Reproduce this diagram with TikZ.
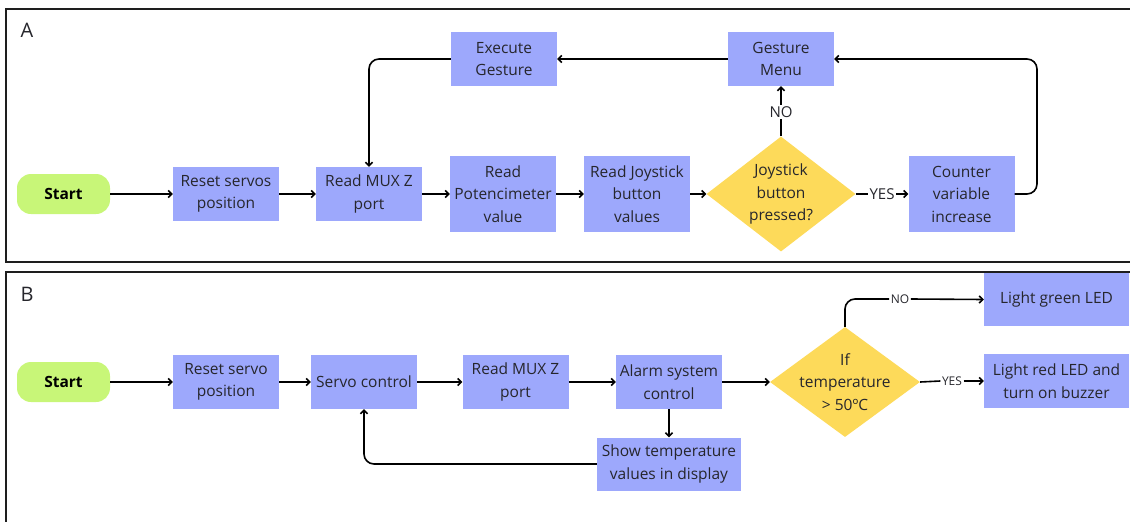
\documentclass[tikz,border=0pt]{standalone}
\usepackage{fontspec}
\setmainfont{Open Sans}
\usetikzlibrary{shapes.geometric,arrows.meta}
\definecolor{boxblue}{RGB}{157,168,252}
\definecolor{decyellow}{RGB}{253,218,90}
\definecolor{startgreen}{RGB}{200,246,120}
\definecolor{ink}{RGB}{38,38,44}
\definecolor{framec}{RGB}{30,30,30}
\tikzset{
  stepbox/.style={rectangle, fill=boxblue, inner sep=0pt, align=center, text=ink,
    minimum width=106pt, minimum height=54pt,
    font=\fontsize{15.5}{22.5}\selectfont},
  tallbox/.style={stepbox, minimum height=76pt},
  startbox/.style={rectangle, rounded corners=14pt, fill=startgreen, inner sep=0pt,
    minimum width=93pt, minimum height=40pt, text=black,
    font=\fontsize{15.5}{22}\selectfont\bfseries},
  decision/.style={diamond, fill=decyellow, inner sep=-12pt, align=center, text=ink,
    aspect=1.3, font=\fontsize{15.5}{22.5}\selectfont},
  flow/.style={line width=1.6pt, draw=black, -{Straight Barb[length=3.5pt,width=7pt]}},
  plain/.style={line width=1.6pt, draw=black},
  tagA/.style={inner sep=1.5pt, text=ink, font=\fontsize{15}{18}\selectfont},
  tagB/.style={inner sep=1.5pt, text=ink, font=\fontsize{12}{14}\selectfont},
  frame/.style={line width=2pt, draw=framec},
  panel/.style={text=ink, font=\fontsize{20}{22}\selectfont},
}
\begin{document}
\begin{tikzpicture}[x=1pt, y=-1pt]
\useasboundingbox (0,0) rectangle (1130,522);
\clip (0,0) rectangle (1130,522);

% panel frames
\draw[frame] (6,9) rectangle (1145,262);
\draw[frame] (6,272) rectangle (1145,540);
\node[panel] (labA) at (27,30) {A};
\node[panel] (labB) at (27,294) {B};

% ---------- panel A ----------
\node[startbox] (sA) at (63.5,194) {Start};
\node[stepbox] (rsA) at (226,194) {Reset servos\\position};
\node[stepbox] (muxA) at (369,194) {Read MUX Z\\port};
\node[tallbox] (pot) at (503,194) {Read\\Potencimeter\\value};
\node[tallbox] (joy) at (637,194) {Read Joystick\\button\\values};
\node[decision, minimum width=149pt, minimum height=115pt] (dA) at (781,194) {Joystick\\button\\pressed?};
\node[tallbox] (cnt) at (961.5,194) {Counter\\variable\\increase};
\node[stepbox] (gm) at (781,59) {Gesture\\Menu};
\node[stepbox] (eg) at (504,59) {Execute\\Gesture};
\node[tagA] (noA) at (781,112) {NO};
\node[tagA] (yesA) at (882,194) {YES};

\draw[flow] (sA) -- (rsA);
\draw[flow] (rsA) -- (muxA);
\draw[flow] (muxA) -- (pot);
\draw[flow] (pot) -- (joy);
\draw[flow] (joy) -- (dA);
\draw[plain] (dA.east) -- (yesA.west);
\draw[flow] (yesA.east) -- (cnt.west);
\draw[plain] (dA.north) -- (noA.south);
\draw[flow] (noA.north) -- (gm.south);
\draw[flow, rounded corners=10pt] (cnt.east) -- (1037,194) |- (gm.east);
\draw[flow] (gm.west) -- (eg.east);
\draw[flow, rounded corners=10pt] (eg.west) -| (muxA.north);

% ---------- panel B ----------
\node[startbox] (sB) at (63.5,382) {Start};
\node[stepbox] (rsB) at (226,382) {Reset servo\\position};
\node[stepbox] (sc) at (364,382) {Servo control};
\node[stepbox] (muxB) at (515.5,382) {Read MUX Z\\port};
\node[stepbox] (alarm) at (669,382) {Alarm system\\control};
\node[stepbox, minimum width=144pt, minimum height=53pt] (show) at (669,464) {Show temperature\\values in display};
\node[decision, minimum width=150pt, minimum height=110pt] (dB) at (845,382) {If\\temperature\\> 50ºC};
\node[stepbox, minimum width=145pt, minimum height=53pt] (green) at (1056.5,299.5) {Light green LED};
\node[stepbox, minimum width=145pt, minimum height=54pt] (red) at (1056.5,381) {Light red LED and\\turn on buzzer};
\node[tagB] (noB) at (900,299) {NO};
\node[tagB] (yesB) at (952,381) {YES};

\draw[flow] (sB) -- (rsB);
\draw[flow] (rsB) -- (sc);
\draw[flow] (sc) -- (muxB);
\draw[flow] (muxB) -- (alarm);
\draw[flow] (alarm) -- (dB);
\draw[flow] (alarm) -- (show);
\draw[flow, rounded corners=10pt] (show.west) -| (sc.south);
\draw[plain, rounded corners=10pt] (dB.north) |- (noB.west);
\draw[flow] (noB.east) -- (green.west);
\draw[plain] (dB.east) -- (yesB.west);
\draw[flow] (yesB.east) -- (red.west);
\end{tikzpicture}
\end{document}
